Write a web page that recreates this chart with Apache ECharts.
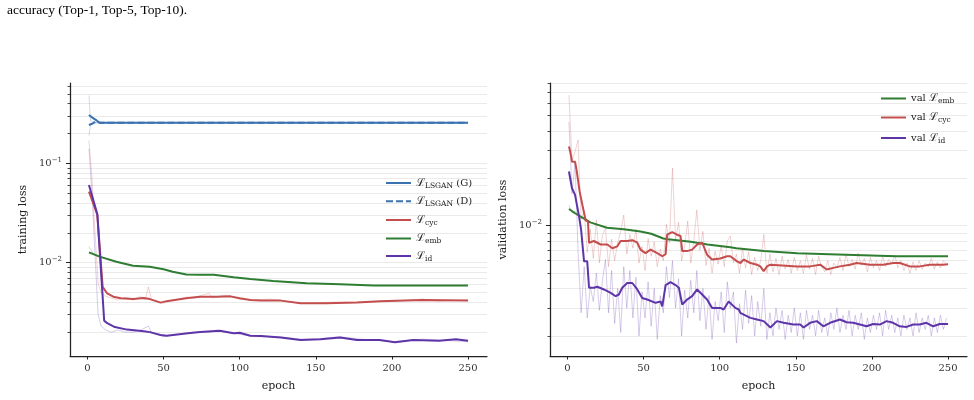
<!DOCTYPE html>
<html><head><meta charset="utf-8">
<script src="https://cdn.jsdelivr.net/npm/echarts@6/dist/echarts.min.js"></script>
<style>html,body{margin:0;padding:0;background:#fff}#c{width:974px;height:400px}</style>
</head><body><div id="c"></div>
<script>
// ---------------- data ----------------
const xTicks = [0, 50, 100, 150, 200, 250];
const trainMinorTicks = [0.002,0.003,0.004,0.005,0.006,0.007,0.008,0.009,0.01,0.02,0.03,0.04,0.05,0.06,0.07,0.08,0.09,0.1,0.2,0.3,0.4,0.5,0.6];
const trainMajorTicks = [0.01, 0.1];
const valMinorTicks = [0.002,0.003,0.004,0.005,0.006,0.007,0.008,0.009,0.01,0.02,0.03,0.04,0.05,0.06,0.07,0.08];
const valMajorTicks = [0.01];

// training (smoothed) [epoch, loss]
const trainG = [[1,0.306],[3,0.29],[6,0.27],[8,0.256],[250,0.256]];
const trainD = [[1,0.243],[3,0.25],[6,0.266],[8,0.256],[250,0.256]];
const trainCyc = [[1,0.0518],[6.5,0.0302],[10,0.0057],[13,0.0049],[17,0.00455],[22,0.00438],[30,0.0043],[37,0.0044],[41,0.0043],[48,0.00396],[52,0.0041],[66,0.0044],[74,0.00455],[85,0.00455],[94,0.00458],[100,0.00438],[107,0.0042],[114,0.00415],[127,0.00415],[140,0.0039],[157,0.0039],[177,0.00398],[192,0.0041],[220,0.0042],[250,0.00415]];
const trainEmb = [[1,0.0127],[8,0.0115],[19,0.0102],[30,0.0093],[41,0.0091],[50,0.0086],[56,0.0081],[65,0.0076],[74,0.00757],[83,0.00757],[96,0.00713],[107,0.00686],[122,0.00655],[144,0.0062],[166,0.00606],[188,0.0059],[210,0.00588],[250,0.0059]];
const trainId = [[1,0.0605],[6.5,0.0309],[11,0.00261],[13,0.00246],[18,0.00225],[26,0.00212],[37,0.00204],[41,0.002],[48,0.00187],[52,0.00184],[66,0.00195],[74,0.002],[87,0.00206],[96,0.00195],[100,0.00197],[107,0.00184],[114,0.00183],[127,0.00177],[140,0.00167],[153,0.0017],[166,0.00177],[177,0.00167],[192,0.00167],[202,0.00158],[214,0.00167],[231,0.00164],[242,0.0017],[250,0.00164]];
// training (raw, faint)
const trainGRaw = [[1,0.48],[2,0.27],[3,0.26],[5,0.256],[250,0.256]];
const trainDRaw = [[1,0.19],[2,0.24],[4,0.255],[250,0.256]];
const trainCycRaw = [[1,0.17],[3,0.07],[5,0.02],[7,0.0062],[9,0.005],[12,0.0046],[16,0.0044],[20,0.0042],[25,0.0045],[30,0.0042],[35,0.0046],[38,0.0042],[40,0.0057],[42,0.0043],[46,0.0041],[50,0.0039],[55,0.0042],[60,0.0043],[65,0.0045],[70,0.0044],[75,0.0047],[80,0.0049],[82,0.0044],[90,0.0047],[95,0.0045],[100,0.0043],[110,0.0042],[120,0.0043],[130,0.0041],[140,0.0039],[160,0.004],[180,0.004],[200,0.0041],[220,0.0043],[230,0.0041],[250,0.0042]];
const trainEmbRaw = [[1,0.0145],[4,0.0122],[8,0.0114]];
const trainIdRaw = [[1,0.14],[3,0.05],[5,0.012],[7,0.003],[9,0.0023],[12,0.0021],[16,0.002],[20,0.0021],[25,0.002],[30,0.002],[35,0.0021],[40,0.0023],[42,0.002],[50,0.0018],[60,0.0019],[70,0.002],[80,0.002],[85,0.0021],[90,0.002],[100,0.0019],[110,0.0018],[125,0.0018],[140,0.0017],[150,0.0017],[165,0.0018],[180,0.0017],[200,0.0016],[220,0.0017],[250,0.0016]];

// validation (smoothed) [epoch, loss]
const valEmb = [[1,0.01276],[5,0.012],[11,0.0111],[15,0.0105],[26,0.0097],[37,0.0095],[48,0.0092],[55,0.0089],[63,0.0083],[66,0.0082],[81,0.0079],[92,0.0076],[107,0.0073],[111,0.0072],[129,0.0069],[151,0.0067],[172,0.0066],[194,0.0065],[216,0.0064],[250,0.0064]];
const valCyc = [[1,0.0318],[2,0.029],[3,0.0255],[5,0.0255],[6,0.0226],[8,0.0165],[10,0.0133],[12,0.0108],[13.5,0.0106],[14.2,0.0078],[17.4,0.008],[21.8,0.0076],[26.2,0.0076],[29.5,0.0072],[32.8,0.0074],[34.9,0.008],[39.3,0.008],[42.6,0.0081],[45.9,0.0078],[48,0.00705],[51.3,0.0067],[54.6,0.00705],[59,0.0067],[62.3,0.0064],[64.5,0.0066],[65.5,0.00877],[68.8,0.0091],[72,0.00877],[74.3,0.0086],[75.4,0.0069],[78.6,0.0069],[81.9,0.00705],[85.2,0.0076],[88.5,0.0078],[91.7,0.00655],[95,0.0061],[100.4,0.0062],[104.8,0.0064],[107,0.0064],[111.4,0.00594],[113.6,0.0058],[115.8,0.0061],[120.2,0.0058],[124.5,0.00566],[126.7,0.00552],[128.9,0.00514],[131.1,0.00552],[133.3,0.00566],[141,0.0056],[150.7,0.00552],[159.4,0.00552],[166,0.00566],[170.3,0.00527],[174.7,0.0054],[179,0.00552],[185.6,0.00566],[190,0.0058],[198.7,0.00566],[207.4,0.00566],[214,0.0058],[218.3,0.0058],[224.9,0.00552],[231.4,0.00552],[238,0.00566],[246.7,0.00566],[250,0.0057]];
const valId = [[1,0.0221],[3,0.0173],[5,0.0157],[7.6,0.0115],[9,0.0094],[10.9,0.00594],[13,0.00594],[14.2,0.00404],[17.4,0.00404],[19.6,0.0041],[24,0.00394],[28.4,0.00375],[31.7,0.00357],[33.8,0.00366],[36,0.00404],[39.3,0.00433],[42.6,0.00433],[45.9,0.00394],[49.1,0.00348],[52.4,0.0034],[57.9,0.00324],[61.2,0.0033],[62.3,0.00308],[64.5,0.0042],[67.7,0.00438],[71,0.0042],[73.2,0.00404],[75.4,0.00316],[78.6,0.0034],[81.9,0.00357],[85.2,0.00394],[88.5,0.00366],[91.7,0.0034],[95,0.00301],[100.4,0.00301],[102.6,0.00294],[105.9,0.0033],[110.3,0.00301],[112.5,0.00294],[113.6,0.0028],[115.8,0.00273],[120.2,0.0026],[124.5,0.00254],[128.9,0.00248],[133.3,0.00226],[137.6,0.00248],[142,0.00242],[148.5,0.00236],[152.9,0.00236],[155.1,0.00226],[159.4,0.00242],[163.8,0.00248],[168.1,0.0023],[172.5,0.00242],[179,0.00254],[183.4,0.00244],[187.7,0.00242],[192.1,0.00236],[196.5,0.0023],[200.8,0.00238],[205.2,0.00236],[209.6,0.00248],[213.9,0.00242],[218.3,0.0023],[222.7,0.00228],[227.1,0.00236],[231.4,0.00236],[235.8,0.00242],[240.2,0.0023],[244.6,0.00238],[250,0.00238]];
// validation (raw, faint), epochs 1,3,5,...,249
const valCycRaw = [0.0675,0.026,0.0295,0.035,0.011,0.0125,0.0068,0.0095,0.0062,0.0109,0.0058,0.0088,0.0096,0.0055,0.0082,0.006,0.0078,0.0092,0.0117,0.0066,0.0088,0.0072,0.0095,0.0058,0.0074,0.0052,0.0083,0.0064,0.0079,0.0055,0.0071,0.006,0.0102,0.0078,0.0232,0.0082,0.0105,0.006,0.0074,0.0107,0.0058,0.008,0.0126,0.007,0.0092,0.0056,0.0072,0.005,0.0069,0.0057,0.0075,0.0055,0.008,0.0086,0.0058,0.0066,0.005,0.0072,0.0054,0.0068,0.0049,0.0063,0.0052,0.006,0.0088,0.005,0.0066,0.0051,0.0062,0.0049,0.0064,0.0053,0.0061,0.005,0.0063,0.0052,0.006,0.005,0.0065,0.0053,0.0062,0.0049,0.0064,0.0055,0.0051,0.006,0.0049,0.0058,0.0054,0.0063,0.0052,0.0066,0.0055,0.0061,0.0053,0.0067,0.0056,0.0062,0.0051,0.0063,0.0054,0.006,0.0052,0.0064,0.0055,0.0061,0.0057,0.0065,0.0054,0.006,0.0052,0.0058,0.005,0.0059,0.0052,0.006,0.0053,0.0058,0.0055,0.0062,0.0053,0.0059,0.0054,0.006,0.0057];
const valIdRaw = [0.0457,0.016,0.025,0.0068,0.0028,0.0055,0.0026,0.0041,0.0033,0.005,0.0029,0.0045,0.0061,0.0028,0.0052,0.0024,0.004,0.0021,0.0055,0.003,0.0052,0.0026,0.0047,0.002,0.0038,0.0026,0.0044,0.0023,0.004,0.0019,0.0036,0.0028,0.0055,0.0035,0.006,0.003,0.0046,0.002,0.0039,0.0026,0.0045,0.0028,0.0052,0.0025,0.004,0.0022,0.0036,0.0019,0.0033,0.0025,0.0038,0.0021,0.0044,0.003,0.0038,0.0018,0.0032,0.0022,0.0039,0.0024,0.0036,0.002,0.0033,0.0023,0.004,0.0019,0.0028,0.002,0.003,0.0022,0.0029,0.0019,0.0027,0.0021,0.003,0.002,0.0028,0.0019,0.0029,0.0022,0.0027,0.002,0.0029,0.0021,0.0026,0.002,0.0028,0.0022,0.003,0.0021,0.0027,0.0022,0.0029,0.002,0.0027,0.0022,0.0028,0.0019,0.0026,0.0021,0.0027,0.0022,0.0028,0.002,0.0029,0.0022,0.0027,0.0021,0.0026,0.002,0.0027,0.0022,0.0026,0.002,0.0028,0.0021,0.0026,0.0022,0.0027,0.002,0.0026,0.0021,0.0027,0.0022,0.0026];
const valEmbRaw = [[1,0.0135],[3,0.0121],[5,0.0124],[8,0.0112],[12,0.0109]];

// ---------------- chart ----------------
const rawEpochs = valCycRaw.map((_, i) => 2 * i + 1);
const C = {blue:'#3b72b0', red:'#c44e4e', green:'#2f7d32', purple:'#5e35a8'};
const SERIF = '"DejaVu Serif", serif';
const AX = '#222';
const GRID = '#e8e8e8';

function line(name, data, color, g, extra) {
  return Object.assign({
    type:'line', name, data, xAxisIndex:g, yAxisIndex:g*2, symbol:'none', showSymbol:false,
    lineStyle:{color, width:2}, itemStyle:{color}, silent:true, animation:false, z:3
  }, extra || {});
}
function raw(name, data, color, g) {
  return line(name, data, color, g, {lineStyle:{color, width:1, opacity:0.25}, z:2});
}
function xAxis(g) {
  return {type:'value', gridIndex:g, min:-11.45, max:262.45,
    name:'epoch', nameLocation:'middle', nameGap:25,
    nameTextStyle:{fontFamily:SERIF, fontSize:11, color:'#222'},
    axisLine:{show:true, onZero:false, lineStyle:{color:AX, width:1.25}},
    axisTick:{show:true, customValues:xTicks, length:3.5, lineStyle:{color:AX, width:1}},
    axisLabel:{customValues:xTicks, fontFamily:SERIF, fontSize:10, color:'#333', margin:7},
    splitLine:{show:false}};
}
function sup(v) {
  const e = Math.round(Math.log10(v));
  return '{b|10}{e|\u2212' + Math.abs(e) + '}';
}
function yAxes(g, min, max, minor, major, title) {
  return [
    {type:'log', logBase:10, gridIndex:g, min, max, position:'left',
      name:title, nameLocation:'middle', nameGap:41, nameRotate:90,
      nameTextStyle:{fontFamily:SERIF, fontSize:11, color:'#222'},
      axisLine:{show:true, onZero:false, lineStyle:{color:AX, width:1.25}},
      axisTick:{show:true, customValues:minor, length:2.5, lineStyle:{color:AX, width:0.8}},
      axisLabel:{show:false},
      splitLine:{show:true, lineStyle:{color:GRID, width:0.9}}},
    {type:'log', logBase:10, gridIndex:g, min, max, position:'left',
      axisLine:{show:false, onZero:false},
      axisTick:{show:true, customValues:major, length:4, lineStyle:{color:AX, width:1}},
      axisLabel:{customValues:major, margin:8, formatter:sup,
        rich:{b:{fontFamily:SERIF, fontSize:10, color:'#333'},
              e:{fontFamily:SERIF, fontSize:7, color:'#333', padding:[0,0,7,0]}}},
      splitLine:{show:false}}
  ];
}
const labels = {
  'LSGAN_G':'{L|\u2112}{s|LSGAN} (G)',
  'LSGAN_D':'{L|\u2112}{s|LSGAN} (D)',
  'cyc':'{L|\u2112}{s|cyc}',
  'emb':'{L|\u2112}{s|emb}',
  'id':'{L|\u2112}{s|id}',
  'val_emb':'val {L|\u2112}{s|emb}',
  'val_cyc':'val {L|\u2112}{s|cyc}',
  'val_id':'val {L|\u2112}{s|id}'
};
function leg(name, left, cy) {
  return {data:[name], left, top:cy-6, orient:'vertical', itemWidth:25, itemHeight:12, padding:0,
    selectedMode:false, formatter:n => labels[n],
    itemStyle:{color:'transparent', borderColor:'transparent', borderWidth:0, opacity:0},
    textStyle:{fontFamily:SERIF, fontSize:10, color:'#222',
      rich:{L:{fontFamily:SERIF, fontSize:11, color:'#222'},
            s:{fontFamily:SERIF, fontSize:7.5, color:'#222', padding:[6,0,0,0]}}}};
}

const option = {
  animation:false,
  backgroundColor:'#fff',
  title:{text:'accuracy (Top-1, Top-5, Top-10).', left:7, top:3, padding:0,
    textStyle:{fontFamily:'"Liberation Serif", serif', fontSize:13.5, fontWeight:'normal', color:'#000'}},
  grid:[
    {left:70, top:83, width:417, height:273, outerBoundsMode:'none'},
    {left:550, top:83, width:417, height:273, outerBoundsMode:'none'}
  ],
  xAxis:[xAxis(0), xAxis(1)],
  yAxis:[].concat(
    yAxes(0, 0.00115, 0.643, trainMinorTicks, trainMajorTicks, 'training loss'),
    yAxes(1, 0.00149, 0.0805, valMinorTicks, valMajorTicks, 'validation loss')),
  legend:[
    leg('LSGAN_G', 385, 183.5), leg('LSGAN_D', 385, 201.8), leg('cyc', 385, 220.5),
    leg('emb', 385, 239), leg('id', 385, 256.5),
    leg('val_emb', 880, 99), leg('val_cyc', 880, 118), leg('val_id', 880, 138.5)
  ],
  series:[
    raw('rG', trainGRaw, C.blue, 0), raw('rD', trainDRaw, C.blue, 0),
    raw('rCyc', trainCycRaw, C.red, 0), raw('rEmb', trainEmbRaw, C.green, 0), raw('rId', trainIdRaw, C.purple, 0),
    line('LSGAN_G', trainG, C.blue, 0),
    line('LSGAN_D', trainD, C.blue, 0, {lineStyle:{color:C.blue, width:2, type:[7,3]}}),
    line('cyc', trainCyc, C.red, 0),
    line('emb', trainEmb, C.green, 0),
    line('id', trainId, C.purple, 0),
    raw('vrEmb', valEmbRaw, C.green, 1),
    raw('vrCyc', rawEpochs.map((e, i) => [e, valCycRaw[i]]), C.red, 1),
    raw('vrId', rawEpochs.map((e, i) => [e, valIdRaw[i]]), C.purple, 1),
    line('val_emb', valEmb, C.green, 1),
    line('val_cyc', valCyc, C.red, 1),
    line('val_id', valId, C.purple, 1)
  ]
};
const chart = echarts.init(document.getElementById('c'), null, {renderer:'canvas'});
chart.setOption(option);
</script>
</body></html>
